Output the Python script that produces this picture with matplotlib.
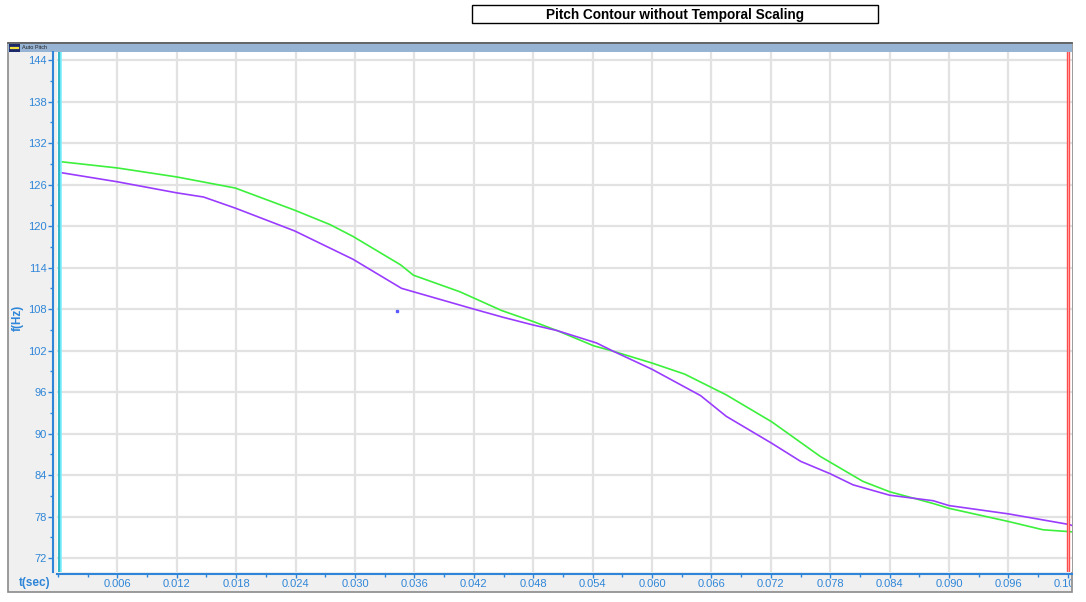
"""Pitch contour screenshot recreation (two pitch tracks, no temporal scaling)."""
import matplotlib
matplotlib.use("Agg")
import matplotlib.pyplot as plt
from matplotlib.patches import Rectangle
from matplotlib.ticker import MultipleLocator, FixedLocator
from matplotlib.transforms import Bbox, TransformedBbox

W, H = 1086, 602

BLUE   = "#2f86d8"
GREEN  = "#3cf03c"
PURPLE = "#9a3cff"
GRIDC  = "#e2e2e2"
PANEL  = "#f0f0f0"
HEADER = "#97b4d4"

# ---- data ----
green_t = [0.0003, 0.0060, 0.0120, 0.0179, 0.0239, 0.0275, 0.0298, 0.0346,
           0.0359, 0.0406, 0.0448, 0.0480, 0.0504, 0.0541, 0.0561, 0.0600,
           0.0633, 0.0675, 0.0721, 0.0770, 0.0813, 0.0840, 0.0884, 0.0900,
           0.0960, 0.0995, 0.1025]
green_f = [129.3, 128.4, 127.1, 125.5, 122.3, 120.2, 118.5, 114.4,
           112.9, 110.5, 107.8, 106.2, 104.9, 102.7, 101.9, 100.2,
           98.6, 95.6, 91.7, 86.7, 83.1, 81.6, 79.9, 79.2,
           77.3, 76.1, 75.8]

purple_t = [0.0004, 0.0060, 0.0120, 0.0147, 0.0179, 0.0239, 0.0298, 0.0347,
            0.0420, 0.0450, 0.0480, 0.0504, 0.0544, 0.0561, 0.0600, 0.0649,
            0.0675, 0.0721, 0.0750, 0.0780, 0.0803, 0.0840, 0.0884, 0.0900,
            0.0960, 0.1020, 0.1025]
purple_f = [127.7, 126.4, 124.8, 124.2, 122.6, 119.3, 115.2, 111.0,
            108.0, 106.8, 105.7, 104.9, 103.1, 101.9, 99.3, 95.5,
            92.5, 88.6, 86.0, 84.2, 82.6, 81.1, 80.3, 79.6,
            78.4, 76.9, 76.7]

stray_t = [0.0342]
stray_f = [107.7]

y_ticks = [72, 78, 84, 90, 96, 102, 108, 114, 120, 126, 132, 138, 144]
x_ticks = [0.006, 0.012, 0.018, 0.024, 0.030, 0.036, 0.042, 0.048, 0.054,
           0.060, 0.066, 0.072, 0.078, 0.084, 0.090, 0.096, 0.102]
cursor_left = 0.0001
cursor_right = 0.1020
title = "Pitch Contour without Temporal Scaling"

plt.rcParams["font.family"] = ["Liberation Sans", "DejaVu Sans"]

fig = plt.figure(figsize=(W / 100, H / 100), dpi=100)
fig.patch.set_facecolor("white")

# background overlay in pixel units
bg = fig.add_axes([0, 0, 1, 1], zorder=0)
bg.set_xlim(0, W)
bg.set_ylim(H, 0)
bg.axis("off")

bg.add_patch(Rectangle((8, 43), 1064, 549, facecolor=PANEL,
                       edgecolor="#8a8a8a", linewidth=1.2))
bg.add_patch(Rectangle((8, 43), 1064, 9, facecolor=HEADER, edgecolor="none"))
bg.plot([8, 1072], [43, 43], color="#5a5a5a", lw=1.2)
bg.add_patch(Rectangle((9, 44), 11, 8, facecolor="#1d2a6a", edgecolor="none"))
bg.plot([11, 18], [48, 48], color="#f5e23a", lw=1.6)
bg.text(22, 47.8, "Auto Pitch", fontsize=4, va="center", ha="left",
        color="#202020")

# title box
bg.add_patch(Rectangle((472, 5), 406, 18, facecolor="white",
                       edgecolor="black", linewidth=1.0))
bg.text(675, 15, title, fontsize=9.8, fontweight="bold",
        ha="center", va="center", color="black")

bg.text(35, 583, "t(sec)", fontsize=8.5, fontweight="bold", color=BLUE,
        ha="center", va="center")
bg.text(18, 318, "f(Hz)", fontsize=8.5, fontweight="bold", color=BLUE,
        ha="center", va="center", rotation=90)

# main plot area
x0, x1 = 57, 1072
y0, y1 = 52, 572
ax = fig.add_axes([x0 / W, (H - y1) / H, (x1 - x0) / W, (y1 - y0) / H],
                  zorder=2)
ax.set_facecolor("white")
ax.set_xlim(-0.0001, 0.10242)
ax.set_ylim(70.0, 145.16)

ax.plot(green_t, green_f, color=GREEN, lw=1.2, zorder=4)
ax.plot(purple_t, purple_f, color=PURPLE, lw=1.2, zorder=5)
ax.plot(stray_t, stray_f, "s", color="#5a5aff", ms=1.6, zorder=5)

ax.axvline(cursor_left, color="#33b8c8", lw=2.2, zorder=6)
ax.axvline(cursor_left + 0.00022, color="#7ff0ff", lw=1.2, zorder=6)
ax.axvline(cursor_right, color="#ff4d4d", lw=2.4, zorder=6)
ax.axvline(cursor_right, color="#ffb0b0", lw=0.6, zorder=6)

ax.yaxis.set_major_locator(FixedLocator(y_ticks))
ax.yaxis.set_minor_locator(MultipleLocator(3))
ax.xaxis.set_major_locator(FixedLocator(x_ticks))
ax.xaxis.set_minor_locator(MultipleLocator(0.003))
ax.set_xticklabels([f"{v:.3f}" for v in x_ticks])
ax.set_yticklabels([str(v) for v in y_ticks])
ax.grid(True, which="major", color=GRIDC, lw=1.6, zorder=1)
ax.set_axisbelow(True)

for side in ["top", "right"]:
    ax.spines[side].set_visible(False)
ax.spines["left"].set_position(("outward", 3))
ax.spines["bottom"].set_position(("outward", 1.5))
ax.spines["left"].set_color(BLUE)
ax.spines["bottom"].set_color(BLUE)
ax.spines["left"].set_linewidth(1.5)
ax.spines["bottom"].set_linewidth(1.5)

ax.tick_params(axis="both", which="both", colors=BLUE, labelcolor=BLUE,
               direction="out", width=1.0)
ax.tick_params(axis="y", which="major", length=3.5, labelsize=8, pad=1)
ax.tick_params(axis="y", which="minor", length=2.5)
ax.tick_params(axis="x", which="major", length=3.0, labelsize=8, pad=0.5)
ax.tick_params(axis="x", which="minor", length=2.5)

# the last x label is cut off by the panel edge
clip = TransformedBbox(Bbox([[0, 0], [1071 / W, 1]]), fig.transFigure)
for lab in ax.get_xticklabels():
    lab.set_clip_on(True)
    lab.set_clip_box(clip)

fig.savefig("out.png", dpi=100)
